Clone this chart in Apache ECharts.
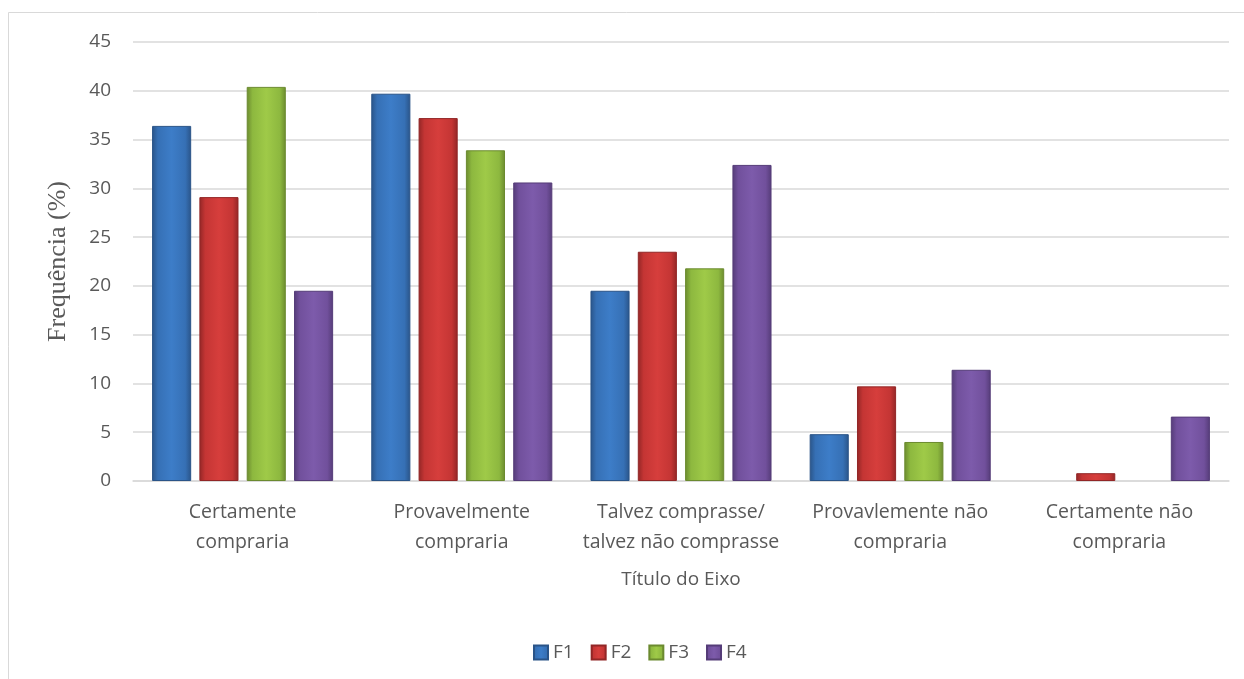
<!DOCTYPE html>
<html>
<head>
<meta charset="utf-8">
<script src="https://cdn.jsdelivr.net/npm/echarts@6/dist/echarts.min.js"></script>
<style>
  html, body { margin: 0; padding: 0; background: #fff; }
  #chart { width: 1244px; height: 679px; }
</style>
</head>
<body>
<div id="chart"></div>
<script>
const categories = [
  'Certamente\ncompraria',
  'Provavelmente\ncompraria',
  'Talvez comprasse/\ntalvez não comprasse',
  'Provavlemente não\ncompraria',
  'Certamente não\ncompraria'
]
const f1 = [36.4, 39.7, 19.5, 4.8, 0]
const f2 = [29.1, 37.2, 23.5, 9.7, 0.8]
const f3 = [40.4, 33.9, 21.8, 4.0, 0]
const f4 = [19.5, 30.6, 32.4, 11.4, 6.6]
const yTicks = [0, 5, 10, 15, 20, 25, 30, 35, 40, 45]

const textColor = '#595959'
const font = 'Open Sans'

// horizontal gradient: dark edges, lighter centre (imitates the bevelled bars)
function barFill (edge, mid, light) {
  return new echarts.graphic.LinearGradient(0, 0, 1, 0, [
    { offset: 0, color: edge },
    { offset: 0.15, color: mid },
    { offset: 0.5, color: light },
    { offset: 0.85, color: mid },
    { offset: 1, color: edge }
  ])
}

const palette = [
  { name: 'F1', data: f1, edge: '#2a5488', mid: '#3670b5', light: '#3d7dc8' },
  { name: 'F2', data: f2, edge: '#922626', mid: '#c43534', light: '#d63e3c' },
  { name: 'F3', data: f3, edge: '#6b8a2f', mid: '#8db83f', light: '#9fca48' },
  { name: 'F4', data: f4, edge: '#553c78', mid: '#71509c', light: '#7d5bab' }
]

const chart = echarts.init(document.getElementById('chart'))

chart.setOption({
  animation: false,
  backgroundColor: '#fff',
  graphic: [{
    type: 'rect',
    shape: { x: 8.5, y: 12.5, width: 1300, height: 700 },
    style: { fill: 'none', stroke: '#d9d9d9', lineWidth: 1 },
    silent: true
  }],
  legend: {
    data: palette.map(p => p.name),
    top: 638,
    left: 528,
    icon: 'rect',
    itemWidth: 14,
    itemHeight: 14,
    itemGap: 17,
    textStyle: { color: textColor, fontFamily: font, fontSize: 19 }
  },
  grid: {
    left: 133,
    right: 15,
    top: 42,
    bottom: 198
  },
  xAxis: {
    type: 'category',
    data: categories,
    name: 'Título do Eixo',
    nameLocation: 'middle',
    nameGap: 89,
    nameTextStyle: { color: textColor, fontFamily: font, fontSize: 19 },
    axisLine: { lineStyle: { color: '#d9d9d9', width: 1.5 } },
    axisTick: { show: false },
    axisLabel: {
      color: textColor,
      fontFamily: font,
      fontSize: 19.5,
      lineHeight: 30,
      margin: 16,
      interval: 0
    }
  },
  yAxis: {
    type: 'value',
    min: yTicks[0],
    max: yTicks[yTicks.length - 1],
    interval: yTicks[1] - yTicks[0],
    name: 'Frequência (%)',
    nameLocation: 'middle',
    nameGap: 62,
    nameTextStyle: { color: textColor, fontFamily: 'Liberation Serif', fontSize: 26 },
    axisLine: { show: false },
    axisTick: { show: false },
    axisLabel: { color: textColor, fontFamily: font, fontSize: 19, margin: 22 },
    splitLine: { lineStyle: { color: '#d9d9d9', width: 1.5 } }
  },
  series: palette.map(p => ({
    name: p.name,
    type: 'bar',
    data: p.data.map(v => ({
      value: v,
      itemStyle: v === 0 ? { opacity: 0 } : undefined
    })),
    barCategoryGap: '17.4%',
    barGap: '21%',
    itemStyle: {
      color: barFill(p.edge, p.mid, p.light),
      borderColor: p.edge,
      borderWidth: 1
    }
  }))
})
</script>
</body>
</html>
